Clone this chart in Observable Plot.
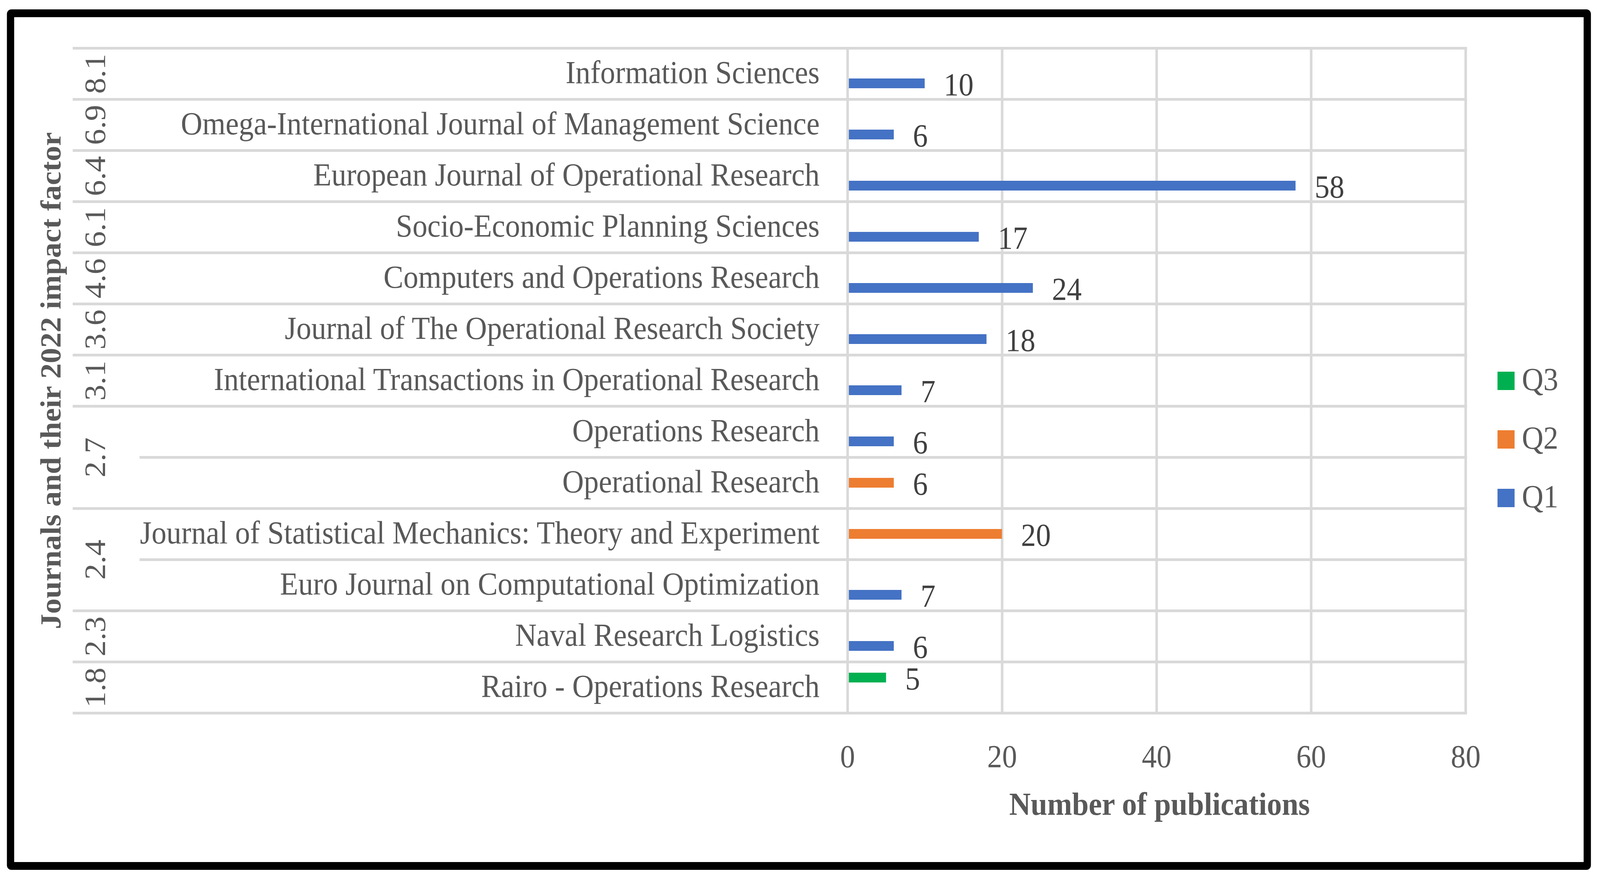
<!DOCTYPE html>
<html>
<head>
<meta charset="utf-8">
<script src="https://cdn.jsdelivr.net/npm/d3@7"></script>
<script src="https://cdn.jsdelivr.net/npm/@observablehq/plot@0.6"></script>
<style>
  html, body { margin: 0; padding: 0; background: #fff; overflow: hidden; }
  #outer { position: relative; width: 4402px; height: 2254px; overflow: hidden; background: #fff; }
  #wrap { position: absolute; left: 0; top: 0; width: 4402px; height: 2254px; overflow: hidden; background: #fff; transform-origin: 0 0; }
  #frame { position: absolute; left: 19px; top: 24px; width: 4358px; height: 2204px; box-sizing: border-box;
           border: 20px solid #000; border-radius: 12px; pointer-events: none; }
  #chart { position: absolute; left: 0; top: 0; width: 4402px; }
  #legend { position: absolute; left: 4120px; top: 0; font-family: "Liberation Serif"; font-size: 82px; color: #595959; }
  .item { position: absolute; left: 0; width: 250px; height: 47px; }
  .sw { position: absolute; left: 0; top: 0; width: 47px; height: 47px; }
  .lab { position: absolute; left: 67px; top: -21px; line-height: 1; white-space: nowrap; }
</style>
</head>
<body>
<div id="outer">
  <div id="wrap">
    <div id="chart"></div>
    <div id="legend"></div>
    <div id="frame"></div>
  </div>
</div>
<script>
// ---------------- data ----------------
const journals = [
  "Information Sciences",
  "Omega-International Journal of Management Science",
  "European Journal of Operational Research",
  "Socio-Economic Planning Sciences",
  "Computers and Operations Research",
  "Journal of The Operational Research Society",
  "International Transactions in Operational Research",
  "Operations Research",
  "Operational Research",
  "Journal of Statistical Mechanics: Theory and Experiment",
  "Euro Journal on Computational Optimization",
  "Naval Research Logistics",
  "Rairo - Operations Research"
];
const impactFactors = ["8.1", "6.9", "6.4", "6.1", "4.6", "3.6", "3.1", "2.7", "2.7", "2.4", "2.4", "2.3", "1.8"];
const quartiles = ["Q1", "Q1", "Q1", "Q1", "Q1", "Q1", "Q1", "Q1", "Q2", "Q2", "Q1", "Q1", "Q3"];
const publications = [10, 6, 58, 17, 24, 18, 7, 6, 6, 20, 7, 6, 5];
const quartileOrder = ["Q3", "Q2", "Q1"];
const xDomain = [0, 80];
const xTicks = [0, 20, 40, 60, 80];
const xLabel = "Number of publications";
const yLabel = "Journals and their 2022 impact factor";

// ---------------- style ----------------
const colors = {Q1: "#4472C4", Q2: "#ED7D31", Q3: "#00B050"};
const FONT = "Liberation Serif";
const FS = 82;
const GRID = "#D9D9D9";
const GW = 7;
const W = 4402, H = 2254;
const mt = 123, mb = H - 1826, ml = 200, mr = W - 4036;
const bw = (H - mt - mb) / journals.length;
const barH = 25;
const slot = {Q3: -25, Q2: 0, Q1: 25}; // offset of each series slot from band centre

const rows = journals.map((j, i) => ({journal: j, impact: impactFactors[i], quartile: quartiles[i], value: publications[i]}));
const groups = d3.groups(rows, d => d.impact);
const bounds = rows.map((d, i) => ({journal: d.journal, full: i === 0 || rows[i - 1].impact !== d.impact}));
const groupSizes = Array.from(new Set(groups.map(g => g[1].length)));

const marks = [];
// gridlines
marks.push(Plot.ruleX(xTicks.filter(t => t !== 0), {stroke: GRID, strokeWidth: GW}));
marks.push(Plot.ruleY(bounds.filter(b => b.full), {y: "journal", dy: -bw / 2, stroke: GRID, strokeWidth: GW}));
marks.push(Plot.ruleY(bounds.filter(b => !b.full), {y: "journal", dy: -bw / 2, insetLeft: 184, stroke: GRID, strokeWidth: GW}));
marks.push(Plot.ruleY([journals[journals.length - 1]], {y: d => d, dy: bw / 2, stroke: GRID, strokeWidth: GW}));
// bars + value labels
for (const q of quartileOrder) {
  const sub = rows.filter(d => d.quartile === q);
  marks.push(Plot.barX(sub, {
    x: "value", y: "journal", fill: colors[q],
    insetTop: bw / 2 + slot[q] - barH / 2, insetBottom: bw / 2 - slot[q] - barH / 2
  }));
  marks.push(Plot.text(sub, {
    x: "value", y: "journal", text: d => String(d.value), textAnchor: "start", lineAnchor: "middle",
    dx: 52, dy: slot[q] + 4, fill: "#404040", fontSize: FS, fontFamily: FONT
  }));
}
marks.push(Plot.ruleX([0], {stroke: GRID, strokeWidth: GW}));
// journal names
marks.push(Plot.text(rows, {
  x: 0, y: "journal", text: "journal", textAnchor: "end", lineAnchor: "middle", dx: -77, dy: -2,
  fill: "#595959", fontSize: FS, fontFamily: FONT
}));
// impact factor group labels
for (const n of groupSizes) {
  marks.push(Plot.text(groups.filter(g => g[1].length === n), {
    y: g => g[1][0].journal, text: g => g[0], frameAnchor: "left", textAnchor: "middle", lineAnchor: "middle",
    dx: 62, dy: (n - 1) * bw / 2,
    rotate: -90, fill: "#595959", fontSize: FS, fontFamily: FONT
  }));
}
// y title
marks.push(Plot.text([yLabel], {
  text: d => d, frameAnchor: "left", textAnchor: "middle", lineAnchor: "middle", dx: -59, rotate: -90,
  fill: "#595959", fontWeight: "bold", fontSize: 79, fontFamily: FONT
}));
// x axis
marks.push(Plot.axisX({ticks: xTicks, tickSize: 0, tickPadding: 80, label: null, fontSize: FS, fontFamily: FONT, fill: "#595959"}));
marks.push(Plot.text([xLabel], {
  x: d3.mean(xDomain), text: d => d, frameAnchor: "bottom", textAnchor: "middle", lineAnchor: "middle", dy: 234, dx: 8,
  fill: "#595959", fontWeight: "bold", fontSize: FS, fontFamily: FONT
}));

const chart = Plot.plot({
  width: W, height: H,
  marginTop: mt, marginBottom: mb, marginLeft: ml, marginRight: mr,
  style: {fontFamily: FONT, fontSize: FS + "px", color: "#595959", background: "transparent", overflow: "visible", maxWidth: "none"},
  x: {domain: xDomain, range: [2331.5, 4032]},
  y: {type: "band", domain: journals, padding: 0, axis: null},
  marks
});
document.getElementById("chart").appendChild(chart);

// legend
const legend = d3.select("#legend");
quartileOrder.forEach((q, i) => {
  const item = legend.append("div").attr("class", "item").style("top", (952 + i * 150) + "px");
  item.append("div").attr("class", "sw").style("background", colors[q]);
  item.append("span").attr("class", "lab").text(q);
});

// fit the 4402x2254 layout to the whole viewport
function fit() {
  const vw = window.innerWidth || W, vh = window.innerHeight || H;
  const sx = vw / W, sy = vh / H;
  const outer = document.getElementById("outer");
  outer.style.width = (W * sx) + "px";
  outer.style.height = (H * sy) + "px";
  document.getElementById("wrap").style.transform =
    (Math.abs(sx - 1) > 1e-4 || Math.abs(sy - 1) > 1e-4) ? `scale(${sx}, ${sy})` : "none";
}
fit();
window.addEventListener("resize", fit);
</script>
</body>
</html>
